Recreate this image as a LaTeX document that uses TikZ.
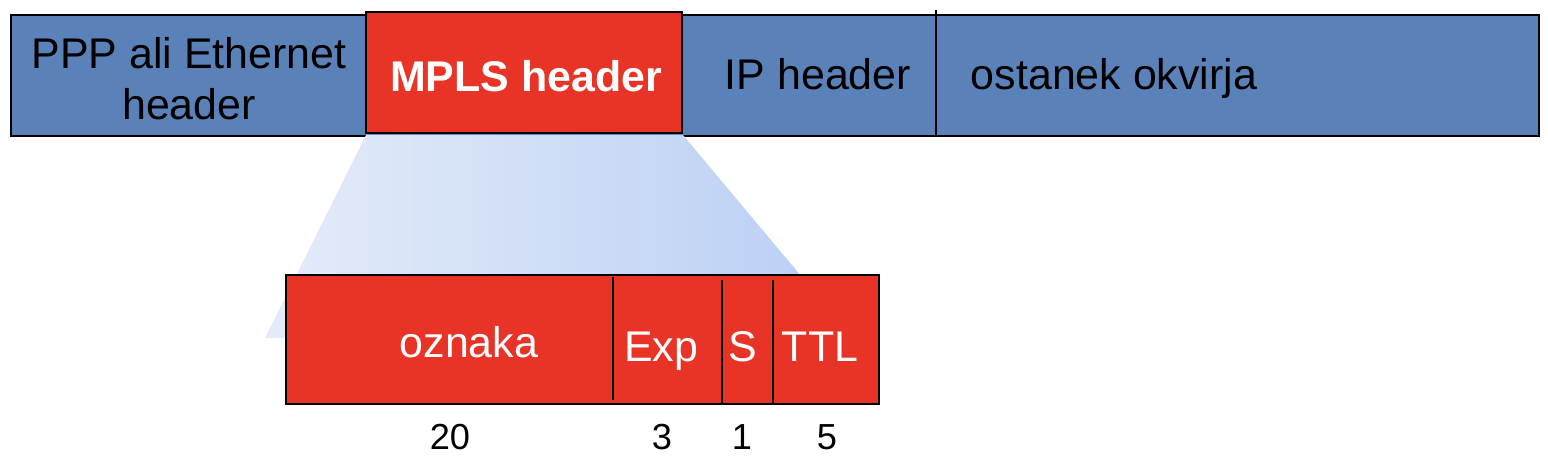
\documentclass[tikz,border=0pt]{standalone}
\usepackage{fontspec}
\setmainfont{Liberation Sans}
\definecolor{barblue}{HTML}{5A81B8}
\definecolor{hdrred}{HTML}{E83426}
\definecolor{gradL}{HTML}{E4ECF9}
\definecolor{gradR}{HTML}{B9CEF4}
\begin{document}
\begin{tikzpicture}[x=0.01cm,y=-0.01cm,
  field/.style={draw=black,line width=0.6pt,inner sep=0pt,anchor=north west},
  big/.style={font=\fontsize{12.2pt}{14.5pt}\selectfont,inner sep=0pt,align=center},
  lbl/.style={big,anchor=base},
  small/.style={font=\fontsize{10.3pt}{12pt}\selectfont,inner sep=0pt,anchor=base},
  divider/.style={draw=black,line width=0.6pt}]
\useasboundingbox (0,0) rectangle (1548,464);
% top frame
\node[field,fill=barblue,minimum width=15.27cm,minimum height=1.21cm] (frame) at (10,14) {};
\coordinate (d1t) at (936,10);
\coordinate (d1b) at (936,135);
\draw[divider] (d1t) -- (d1b);
% shaded zoom region
\coordinate (zt1) at (366,135);
\coordinate (zt2) at (683,135);
\coordinate (zb2) at (853,338);
\coordinate (zb1) at (265,338);
\shade[left color=gradL,right color=gradR] (zt1) -- (zt2) -- (zb2) -- (zb1) -- cycle;
% MPLS header box
\node[field,fill=hdrred,minimum width=3.16cm,minimum height=1.21cm] (mpls) at (365,11) {};
\node[big] (ppp) at (189,78.5) {PPP ali Ethernet\\header};
\node[lbl,text=white,font=\fontsize{12.2pt}{14.5pt}\selectfont\bfseries] (mplst) at (526,92) {MPLS header};
\node[lbl] (ip) at (818,90) {IP header};
\node[lbl] (rest) at (1114,90) {ostanek okvirja};
% lower label box
\node[field,fill=hdrred,minimum width=5.93cm,minimum height=1.29cm] (lblbox) at (285,274) {};
\coordinate (v1t) at (613,277); \coordinate (v1b) at (613,400);
\coordinate (v2t) at (722,280); \coordinate (v2b) at (722,403);
\coordinate (v3t) at (773,280); \coordinate (v3b) at (773,403);
\draw[divider] (v1t) -- (v1b);
\draw[divider] (v2t) -- (v2b);
\draw[divider] (v3t) -- (v3b);
\node[lbl,text=white] (oz) at (469,357) {oznaka};
\node[lbl,text=white] (exp) at (661,361) {Exp};
\node[lbl,text=white] (s) at (743,361) {S};
\node[lbl,text=white] (ttl) at (820,361) {TTL};
\node[small] (n20) at (450,449) {20};
\node[small] (n3) at (662,449) {3};
\node[small] (n1) at (742,449) {1};
\node[small] (n5) at (827,449) {5};
\end{tikzpicture}
\end{document}
